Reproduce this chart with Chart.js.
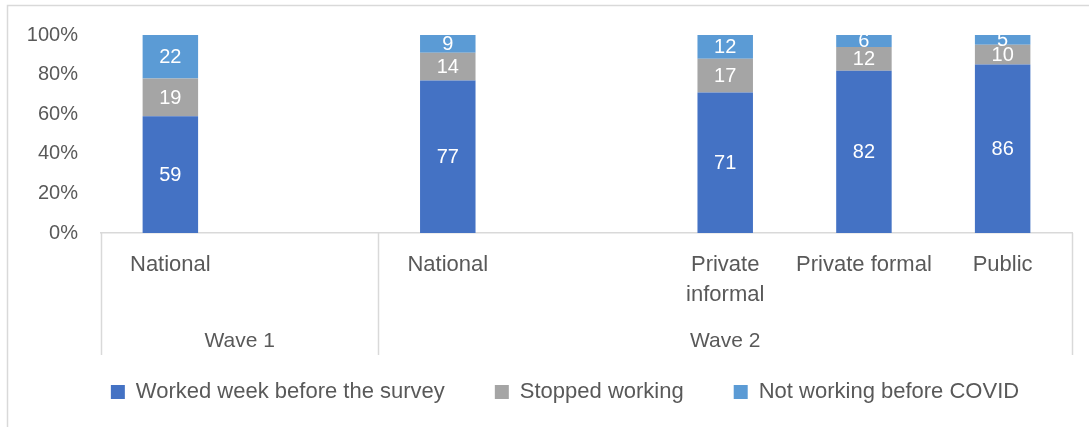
<!DOCTYPE html>
<html>
<head>
<meta charset="utf-8">
<title>Employment status by wave</title>
<script src="https://cdn.jsdelivr.net/npm/chart.js@4.4.1/dist/chart.umd.min.js"></script>
<style>
  html, body { margin: 0; padding: 0; background: #fff; }
  #wrap { width: 1089px; height: 427px; }
</style>
</head>
<body>
<div id="wrap"><canvas id="chart" width="1089" height="427"></canvas></div>
<script>
// ---- data ----
const categories = ['National', '', 'National', '', ['Private', 'informal'], 'Private formal', 'Public'];
const workedWeek = [59, null, 77, null, 71, 82, 86];
const stoppedWorking = [19, null, 14, null, 17, 12, 10];
const notWorkingBefore = [22, null, 9, null, 12, 6, 5];
const waves = [
  { label: 'Wave 1', from: 0, to: 1 },
  { label: 'Wave 2', from: 2, to: 6 },
];
const yTicks = [0, 20, 40, 60, 80, 100];

const FONT = "'Liberation Sans', Arial, sans-serif";
const TEXT = '#595959';
const LINE = '#d9d9d9';

// 100% stacked: each segment is drawn as its share of the column total
const totals = categories.map((_, i) =>
  [workedWeek, stoppedWorking, notWorkingBefore].reduce((s, arr) => s + (arr[i] || 0), 0));
const share = arr => arr.map((v, i) => v == null ? null : v / totals[i] * 100);

const series = [
  { label: 'Worked week before the survey', raw: workedWeek, color: '#4472c4' },
  { label: 'Stopped working', raw: stoppedWorking, color: '#a5a5a5' },
  { label: 'Not working before COVID', raw: notWorkingBefore, color: '#5b9bd5' },
];

// white value labels in the middle of each segment
const segmentLabels = {
  id: 'segmentLabels',
  afterDatasetsDraw(chart) {
    const ctx = chart.ctx;
    ctx.save();
    ctx.fillStyle = '#fff';
    ctx.font = `20px ${FONT}`;
    ctx.textAlign = 'center';
    ctx.textBaseline = 'middle';
    chart.data.datasets.forEach((ds, di) => {
      const meta = chart.getDatasetMeta(di);
      meta.data.forEach((bar, i) => {
        const v = ds.raw[i];
        if (v == null) return;
        ctx.fillText(String(v), bar.x, (bar.y + bar.base) / 2 + 1);
      });
    });
    ctx.restore();
  }
};

// outer frame, group separators and wave captions under the category axis
const groupAxis = {
  id: 'groupAxis',
  afterLayout(chart) {
    // legend row sits a little right of centre
    if (chart.legend) {
      chart.legend.left += 25;
      chart.legend.right += 25;
    }
  },
  beforeDraw(chart) {
    const ctx = chart.ctx;
    ctx.save();
    ctx.strokeStyle = LINE;
    ctx.lineWidth = 1.5;
    ctx.beginPath();
    ctx.moveTo(7.5, chart.height);
    ctx.lineTo(7.5, 5.5);
    ctx.lineTo(chart.width, 5.5);
    ctx.stroke();
    ctx.restore();
  },
  afterDraw(chart) {
    const ctx = chart.ctx;
    const area = chart.chartArea;
    const step = (area.right - area.left) / categories.length;
    const bottom = area.bottom + 122;
    ctx.save();
    ctx.strokeStyle = LINE;
    ctx.lineWidth = 1.5;
    const edges = [area.left];
    waves.forEach(w => edges.push(area.left + (w.to + 1) * step));
    ctx.beginPath();
    edges.forEach(ex => {
      const px = Math.round(ex) + 0.5;
      ctx.moveTo(px, area.bottom);
      ctx.lineTo(px, bottom);
    });
    ctx.stroke();
    ctx.fillStyle = TEXT;
    ctx.font = `21px ${FONT}`;
    ctx.textAlign = 'center';
    ctx.textBaseline = 'middle';
    waves.forEach(w => {
      const cx = area.left + (w.from + w.to + 1) / 2 * step;
      ctx.fillText(w.label, cx, area.bottom + 108);
    });
    ctx.restore();
  }
};

new Chart(document.getElementById('chart'), {
  type: 'bar',
  data: {
    labels: categories,
    datasets: series.map(s => ({
      label: s.label,
      raw: s.raw,
      data: share(s.raw),
      backgroundColor: s.color,
      borderWidth: 0,
      categoryPercentage: 1,
      barPercentage: 0.4,
    })),
  },
  options: {
    responsive: false,
    animation: false,
    layout: { padding: { left: 8, right: 17, top: 35, bottom: 14 } },
    plugins: {
      tooltip: { enabled: false },
      legend: {
        position: 'bottom',
        labels: {
          color: TEXT,
          font: { family: FONT, size: 22 },
          boxWidth: 14,
          boxHeight: 14,
          padding: 50,
        },
      },
    },
    scales: {
      x: {
        stacked: true,
        grid: { display: false, drawTicks: false },
        border: { display: true, color: LINE, width: 1.5 },
        ticks: {
          color: TEXT,
          font: { family: FONT, size: 22, lineHeight: 1.35 },
          padding: 17,
          maxRotation: 0,
          autoSkip: false,
        },
        afterFit(scale) { scale.height = 98; },
      },
      y: {
        stacked: true,
        min: 0,
        max: 100,
        afterBuildTicks(scale) { scale.ticks = yTicks.map(v => ({ value: v })); },
        grid: { display: false, drawTicks: false },
        border: { display: false },
        ticks: {
          color: TEXT,
          font: { family: FONT, size: 20 },
          padding: 23,
          callback: v => v + '%',
        },
        afterFit(scale) { scale.width = 93; },
      },
    },
  },
  plugins: [segmentLabels, groupAxis],
});
</script>
</body>
</html>
